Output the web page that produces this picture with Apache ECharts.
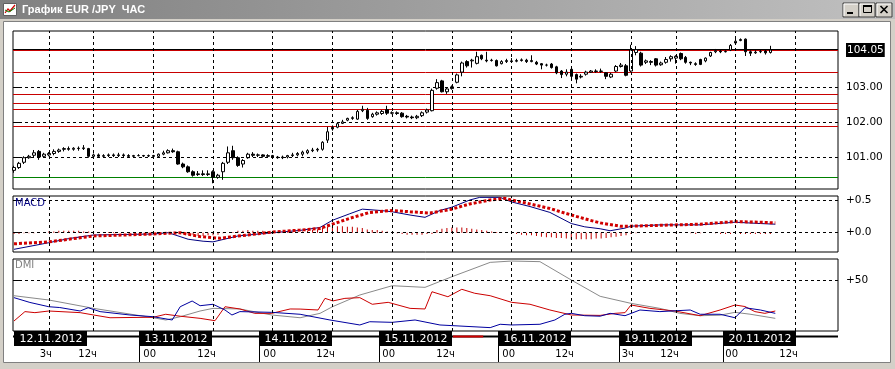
<!DOCTYPE html>
<html><head><meta charset="utf-8">
<script src="https://cdn.jsdelivr.net/npm/echarts@6/dist/echarts.min.js"></script>
<style>html,body{margin:0;padding:0;background:#d4d0c8;overflow:hidden}#c{width:895px;height:369px;}</style>
</head><body><div id="c"></div>
<script>
// ---------- DATA ----------
// hourly candles EUR/JPY: [open, close, low, high]
const candles = [
[100.62,100.70,100.55,100.75],[100.70,100.82,100.66,100.86],[100.85,100.98,100.80,101.02],[100.98,101.02,100.95,101.06],
[101.05,101.12,101.00,101.20],[101.16,101.00,100.92,101.20],[101.02,101.08,100.98,101.12],[101.06,101.10,101.02,101.14],
[101.10,101.16,101.05,101.22],[101.16,101.20,101.12,101.24],[101.22,101.24,101.16,101.28],[101.24,101.22,101.18,101.30],
[101.22,101.25,101.18,101.28],[101.25,101.24,101.18,101.30],[101.24,101.26,101.20,101.34],[101.24,101.02,100.98,101.26],
[101.02,101.06,100.96,101.10],[101.06,101.02,100.98,101.10],[101.02,101.04,100.98,101.08],[101.04,101.06,101.00,101.10],
[101.06,101.04,101.00,101.10],[101.04,101.06,101.00,101.12],[101.06,101.04,101.00,101.10],[101.04,101.02,100.98,101.08],
[101.02,101.04,101.00,101.06],[101.04,101.04,101.02,101.08],[101.04,101.03,101.00,101.06],[101.03,101.04,101.00,101.07],
[101.04,101.02,100.98,101.06],[101.02,101.08,101.00,101.10],[101.08,101.12,101.05,101.18],[101.12,101.18,101.10,101.22],
[101.18,101.15,101.12,101.24],[101.15,100.80,100.78,101.18],[100.80,100.72,100.68,100.84],[100.72,100.58,100.55,100.76],
[100.58,100.48,100.44,100.62],[100.50,100.52,100.46,100.60],[100.52,100.50,100.46,100.62],[100.50,100.52,100.46,100.62],
[100.58,100.42,100.25,100.62],[100.42,100.48,100.38,100.52],[100.58,100.82,100.35,100.86],[100.85,101.12,100.80,101.30],
[101.18,100.98,100.92,101.32],[100.98,100.76,100.72,101.02],[100.80,100.90,100.70,100.94],[100.98,101.08,100.95,101.12],
[101.08,101.05,101.00,101.14],[101.05,101.06,101.00,101.10],[101.06,101.02,100.98,101.08],[101.02,101.04,100.98,101.08],
[101.04,101.00,100.96,101.06],[101.00,100.98,100.95,101.03],[100.98,101.00,100.94,101.04],[101.00,101.04,100.96,101.06],
[101.04,101.06,101.00,101.12],[101.06,101.10,101.02,101.14],[101.08,101.14,101.02,101.18],[101.12,101.18,101.08,101.22],
[101.18,101.20,101.14,101.26],[101.20,101.22,101.15,101.26],[101.22,101.42,101.18,101.45],[101.48,101.72,101.40,101.86],
[101.80,101.85,101.75,101.90],[101.85,101.95,101.82,101.98],[101.96,102.00,101.94,102.06],[102.05,102.10,102.02,102.12],
[102.10,102.12,102.06,102.16],[102.08,102.30,102.06,102.34],[102.32,102.36,102.28,102.46],[102.33,102.10,102.06,102.40],
[102.15,102.22,102.12,102.26],[102.22,102.26,102.18,102.30],[102.24,102.30,102.20,102.34],[102.35,102.25,102.20,102.46],
[102.25,102.26,102.22,102.30],[102.26,102.24,102.20,102.30],[102.25,102.15,102.12,102.28],[102.16,102.14,102.10,102.20],
[102.14,102.12,102.08,102.18],[102.12,102.16,102.08,102.20],[102.18,102.26,102.14,102.30],[102.28,102.34,102.24,102.38],
[102.32,102.90,102.30,102.95],[102.96,103.12,102.92,103.22],[103.17,102.86,102.84,103.20],[102.86,102.94,102.80,102.98],
[102.95,103.00,102.92,103.04],[103.13,103.34,103.10,103.38],[103.42,103.68,103.30,103.72],[103.72,103.60,103.55,103.76],
[103.74,103.76,103.55,103.80],[103.67,103.86,103.64,104.00],[103.90,103.80,103.76,103.92],[103.76,103.74,103.70,104.00],
[103.75,103.76,103.72,103.80],[103.75,103.60,103.58,103.78],[103.66,103.72,103.64,103.76],[103.72,103.75,103.68,103.80],
[103.74,103.72,103.68,103.82],[103.73,103.75,103.70,103.80],[103.75,103.77,103.72,103.81],[103.76,103.72,103.68,103.80],
[103.72,103.75,103.70,103.90],[103.70,103.65,103.62,103.74],[103.66,103.62,103.50,103.68],[103.62,103.62,103.58,103.66],
[103.65,103.55,103.52,103.68],[103.57,103.40,103.36,103.60],[103.45,103.35,103.25,103.48],[103.36,103.42,103.30,103.50],
[103.50,103.30,103.25,103.52],[103.35,103.22,103.10,103.38],[103.28,103.30,103.24,103.36],[103.36,103.42,103.32,103.46],
[103.42,103.45,103.40,103.48],[103.45,103.44,103.40,103.50],[103.44,103.45,103.40,103.52],[103.40,103.30,103.22,103.42],
[103.28,103.36,103.25,103.40],[103.45,103.58,103.42,103.62],[103.58,103.62,103.55,103.68],[103.60,103.33,103.30,103.65],
[103.45,104.05,103.42,104.20],[103.98,104.06,103.90,104.16],[103.96,103.62,103.58,104.00],[103.70,103.74,103.65,103.78],
[103.72,103.70,103.62,103.76],[103.80,103.62,103.58,103.82],[103.63,103.68,103.60,103.72],[103.70,103.78,103.66,103.85],
[103.80,103.86,103.72,103.90],[103.82,103.87,103.66,103.90],[103.95,103.80,103.76,103.98],[103.84,103.70,103.66,103.88],
[103.70,103.68,103.62,103.72],[103.66,103.64,103.60,103.70],[103.78,103.64,103.62,103.80],[103.74,103.82,103.70,103.84],
[103.88,103.98,103.85,104.00],[104.00,104.03,103.96,104.08],[104.02,104.00,103.96,104.05],[104.00,104.01,103.98,104.04],
[104.05,104.18,104.02,104.22],[104.25,104.30,104.22,104.40],[104.32,104.35,104.30,104.38],[104.36,104.00,103.88,104.38],
[104.00,103.96,103.88,104.04],[103.97,103.99,103.94,104.04],[104.00,104.01,103.96,104.05],[104.02,103.97,103.92,104.06],
[103.98,104.05,103.95,104.17]
];
const lastPrice = 104.05;
const redLevels = [104.05, 103.41, 102.80, 102.54, 102.37, 101.88];
const darkLevels = [104.075];
const greenLevels = [100.43];
const priceTicks = [101, 102, 103];

// MACD [hourIndex, value]
const macdMain = [[0,-0.254],[7,-0.153],[11,-0.09],[16,-0.035],[28,-0.02],[31,0.0],[35,-0.10],[38,-0.13],[40,-0.14],[45,-0.05],[52,0.0],[57.5,0.035],[61.5,0.08],[64,0.19],[67.5,0.29],[70,0.36],[73.6,0.34],[76,0.32],[79.6,0.27],[82.6,0.235],[85.6,0.34],[88,0.39],[91.6,0.50],[93.6,0.54],[97.7,0.54],[100,0.47],[103.7,0.40],[107.7,0.31],[112,0.14],[114.7,0.09],[117.8,0.06],[119.8,0.03],[122.8,0.07],[124,0.10],[130,0.12],[137.9,0.12],[144.9,0.16],[150,0.14],[153,0.13]];
const macdSignal = [[0,-0.17],[7,-0.14],[16,-0.05],[28,-0.02],[33.4,0.0],[37.4,-0.06],[41.4,-0.085],[47.4,-0.03],[52,0.01],[57.5,0.04],[61.5,0.065],[64,0.13],[67.5,0.22],[71.5,0.31],[76,0.34],[79.6,0.32],[83.6,0.30],[88,0.36],[91.6,0.44],[95.7,0.50],[98.7,0.525],[100,0.50],[103.7,0.44],[107.7,0.37],[112,0.27],[115.8,0.19],[117.8,0.15],[121.8,0.10],[124,0.10],[137.9,0.13],[144.9,0.17],[150,0.16],[153,0.15]];
const macdHist = [
-0.02,-0.02,-0.01,-0.01,-0.01,0.00,0.01,0.02,0.02,0.03,0.03,0.03,0.03,0.03,0.02,0.02,
0.01,0.01,0.01,0.01,0.01,0,0,0,0,0,0,0,0,0,0,
0,0,-0.01,-0.02,-0.03,-0.04,-0.05,-0.05,-0.04,-0.04,-0.03,-0.01,0.00,0.01,
0.03,0.03,0.04,0.03,0.03,0.03,0.02,0.02,0.01,0.01,0.01,0.01,0.01,
0.02,0.03,0.04,0.05,0.08,0.09,0.10,0.10,0.10,0.09,0.09,0.08,0.07,
0.05,0.04,0.04,0.03,0.02,0.01,-0.01,-0.02,-0.03,-0.03,-0.03,-0.03,-0.02,-0.02,
0.04,0.06,0.07,0.08,0.08,0.08,0.07,0.06,0.05,0.04,0.03,0.02,0.01,0.01,0.00,
-0.01,-0.02,-0.03,-0.04,-0.04,-0.05,-0.06,-0.07,-0.07,-0.08,-0.08,-0.09,-0.10,-0.10,-0.10,-0.10,-0.10,-0.09,
-0.09,-0.08,-0.07,-0.06,-0.05,-0.04,-0.02,-0.01,0,0,0,0,0,
0,0,-0.01,0,0,-0.01,-0.02,-0.01,0,0,
-0.01,-0.02,-0.02,-0.02,-0.02,-0.02,-0.02,-0.02,-0.02,-0.02,-0.02,-0.02
];
// DMI [hourIndex, value]
const adx = [[0,34.6],[7,30.4],[16,22.2],[28,13],[30.5,10.8],[33.4,14],[37.4,19.6],[40,22.2],[45.4,21.6],[51.8,15.7],[57.5,13],[61.5,17.3],[64,23.8],[69.5,35.3],[76,44.4],[82.6,42.8],[88,53.2],[95.7,67.3],[100,68.6],[105.7,68],[112,50],[117.8,34],[124,27.1],[129.8,22.2],[133.8,17.3],[137.9,15],[141.9,15.5],[144.9,18.3],[147.9,16.5],[153,12.4]];
const diPlus = [[0,9.8],[2.2,19],[4.2,18],[7,19.6],[13.3,18],[16,15.7],[19.3,13],[28,13.5],[30.5,16.4],[33.4,14.5],[37.4,12.4],[40.4,10.1],[42.4,23.8],[45.4,21.6],[48.4,17.3],[51.8,17.3],[55.5,21.6],[57.5,21.5],[61.1,20.6],[62.5,32],[64.1,29.5],[66.5,32],[69.5,32.7],[72,26.2],[75.2,28.1],[79.6,22.2],[82.6,21.6],[84,38.5],[87.2,33.6],[90,40.9],[92.6,37],[95.7,34.6],[100,28.1],[103.7,26.2],[107.7,20.6],[112,15.7],[117.8,15.3],[120.8,17.3],[122.8,18],[124,25.5],[127.8,22.2],[132.8,19.6],[137.9,15],[141.9,20.6],[144.9,25.5],[146.9,24],[148.9,19],[150.9,17.3],[153,19.6]];
const diMinus = [[0,32.7],[3.2,28],[7,23.8],[9.2,23],[13.3,19.6],[14.9,22.8],[17.3,19],[23.3,15.7],[28,14],[31.8,10.8],[33.4,23.8],[35.8,29.4],[37.4,24.8],[40,26.2],[42.4,20.6],[43.8,15.7],[45.4,19],[51.8,18.3],[57.5,16.4],[63.5,10.8],[69.5,5.9],[71.5,9.1],[76,8.5],[80.6,10.8],[85.6,5.9],[95.7,3.3],[97.7,6.6],[100,5.9],[105.7,6.6],[108.7,10.8],[110.7,16.4],[112,17.3],[114.7,15],[117.8,14.5],[119.8,17.3],[122.8,15],[125.8,20.6],[129.8,19],[135.9,20.6],[137.9,16.4],[141.9,16.4],[144.9,13],[146.9,22.8],[150,20.6],[153,17.3]];

// time axis
const gridHours = [7,16,28,40,52,64,76,88,100,112,124,133,145,157];
const hourLabels = ['3ч','12ч','00','12ч','00','12ч','00','12ч','00','12ч','3ч','12ч','00','12ч'];
const dateStarts = [0,25.2,49.2,73.3,97.3,121.5,142.5];
const dateLabels = ['12.11.2012','13.11.2012','14.11.2012','15.11.2012','16.11.2012','19.11.2012','20.11.2012'];

// ---------- CHART ----------
const FONT = '"DejaVu Sans", Verdana, sans-serif';
const XMIN = -0.2, XMAX = 165.6;
const chart = echarts.init(document.getElementById('c'), null, {renderer:'canvas'});

const gridDefs = [
  {top:31, height:158},
  {top:196, height:56},
  {top:259, height:72},
  {top:331, height:31}
];
const grids = gridDefs.map((g,i)=>({left:13, width:825, top:g.top, height:g.height,
  show: i<3, borderColor:'#000', borderWidth:1, backgroundColor:'#fff', containLabel:false, outerBoundsMode:'none'}));
const xAxes = gridDefs.map((g,i)=>({type:'value', gridIndex:i, min:XMIN, max:XMAX, show:false}));
const labelBase = {color:'#000', fontFamily:FONT, fontSize:10.5, margin:8};
const tickBase = {show:true, length:5, lineStyle:{color:'#000'}};
const yAxes = [
  {type:'value', gridIndex:0, position:'right', min:100.088, max:104.592, scale:true,
   axisLine:{show:false}, splitLine:{show:false},
   axisTick:Object.assign({customValues:priceTicks}, tickBase),
   axisLabel:Object.assign({customValues:priceTicks.concat([lastPrice]),
     formatter:v=> Math.abs(v-lastPrice)<1e-6 ? '{b|'+lastPrice.toFixed(2)+'}' : v.toFixed(2),
     rich:{b:{color:'#fff', backgroundColor:'#000', fontFamily:FONT, fontSize:10.5, padding:[2,1,1,1]}}}, labelBase)},
  {type:'value', gridIndex:1, position:'right', min:-0.295, max:0.561,
   axisLine:{show:false}, splitLine:{show:false},
   axisTick:Object.assign({customValues:[0,0.5]}, tickBase),
   axisLabel:Object.assign({customValues:[0,0.5], formatter:v=>'+'+v.toFixed(1)}, labelBase)},
  {type:'value', gridIndex:2, position:'right', min:0, max:70.6,
   axisLine:{show:false}, splitLine:{show:false},
   axisTick:Object.assign({customValues:[50]}, tickBase),
   axisLabel:Object.assign({customValues:[50], formatter:v=>'+'+v}, labelBase)},
  {type:'value', gridIndex:3, min:0, max:31, inverse:true, show:false}
];

const dash = {type:[3,3], color:'#000', width:1};
function gridLines(idx, hVals){
  return {type:'line', xAxisIndex:idx, yAxisIndex:idx, data:[], z:1, silent:true,
    markLine:{silent:true, symbol:['none','none'], label:{show:false}, animation:false,
      lineStyle:dash,
      data: gridHours.map(h=>({xAxis:h})).concat(hVals.map(v=>({yAxis:v})))}};
}
// horizontal price levels drawn through the axis scale
function levelLines(vals, color, z){
  return {type:'custom', xAxisIndex:0, yAxisIndex:0, z:z, silent:true, clip:true,
    data: vals.map(v=>[0, v]),
    renderItem:(p,api)=>{
      const a = api.coord([XMIN, api.value(1)]);
      const b = api.coord([XMAX, api.value(1)]);
      const y = Math.round(a[1]) + 0.5;
      return {type:'line', shape:{x1:a[0], y1:y, x2:b[0], y2:y}, style:{stroke:color, lineWidth:1}};
    }};
}

const series = [
  gridLines(0, priceTicks),
  levelLines(darkLevels, '#000000', 2),
  levelLines(redLevels, '#c80000', 2),
  levelLines(greenLevels, '#008000', 2),
  {type:'candlestick', xAxisIndex:0, yAxisIndex:0, z:3, barWidth:3,
   encode:{x:0, y:[1,2,3,4]},
   data: candles.map((c,i)=>[i].concat(c)),
   itemStyle:{color:'#fff', color0:'#000', borderColor:'#000', borderColor0:'#000', borderWidth:1}},

  gridLines(1, [0,0.5]),
  {type:'bar', xAxisIndex:1, yAxisIndex:1, z:2, barWidth:1, silent:true,
   data: macdHist.map((v,i)=>[i,v]), itemStyle:{color:'#c00000'}},
  {type:'line', xAxisIndex:1, yAxisIndex:1, z:3, data:macdMain, showSymbol:false, silent:true,
   lineStyle:{color:'#000080', width:1}},
  {type:'line', xAxisIndex:1, yAxisIndex:1, z:4, data:macdSignal, showSymbol:false, silent:true,
   lineStyle:{color:'#d00000', width:3, type:[3,2]}},

  gridLines(2, [50]),
  {type:'line', xAxisIndex:2, yAxisIndex:2, z:3, data:adx, showSymbol:false, silent:true,
   lineStyle:{color:'#8a8a8a', width:1}},
  {type:'line', xAxisIndex:2, yAxisIndex:2, z:4, data:diPlus, showSymbol:false, silent:true,
   lineStyle:{color:'#cc0000', width:1}},
  {type:'line', xAxisIndex:2, yAxisIndex:2, z:4, data:diMinus, showSymbol:false, silent:true,
   lineStyle:{color:'#0000a0', width:1}},

  // time axis strip
  {type:'line', xAxisIndex:3, yAxisIndex:3, z:1, silent:true, showSymbol:false, clip:false,
   data:[[XMIN,5.5],[XMAX,5.5]], lineStyle:{color:'#000', width:2}},
  {type:'line', xAxisIndex:3, yAxisIndex:3, z:2, silent:true, showSymbol:false, clip:false,
   data:[[88.2,5.5],[94.3,5.5]], lineStyle:{color:'#d00000', width:2}},
  {type:'custom', xAxisIndex:3, yAxisIndex:3, z:3, silent:true, clip:false,
   data: dateStarts.map(v=>[v,0]),
   renderItem:(p,api)=>{
     const pt = api.coord([api.value(0), 0]);
     const x = Math.round(pt[0]);
     const ch = [
       {type:'rect', shape:{x:x, y:pt[1], width:73, height:15}, style:{fill:'#000'}},
       {type:'text', style:{text:dateLabels[p.dataIndex], x:x+37, y:pt[1]+8, fill:'#fff',
         font:'11px '+FONT, align:'center', verticalAlign:'middle'}}
     ];
     if (p.dataIndex>0) ch.push({type:'line', shape:{x1:x+0.5, y1:pt[1]+5, x2:x+0.5, y2:pt[1]+31}, style:{stroke:'#000', lineWidth:1}});
     return {type:'group', children:ch};
   }},
  {type:'custom', xAxisIndex:3, yAxisIndex:3, z:3, silent:true, clip:false,
   data: gridHours.map(v=>[v,23]),
   renderItem:(p,api)=>{
     const pt = api.coord([api.value(0), api.value(1)]);
     return {type:'text', style:{text:hourLabels[p.dataIndex], x:Math.round(pt[0])+3, y:pt[1],
       fill:'#000', font:'10px '+FONT, align:'right', verticalAlign:'middle'}};
   }}
];

const titleGrad = new echarts.graphic.LinearGradient(0,0,1,0,[{offset:0,color:'#808080'},{offset:1,color:'#c0c0c0'}]);
function btn(x, kind){
  const ch = [
    {type:'rect', shape:{x:x, y:3, width:16, height:14}, style:{fill:'#d4d0c8', stroke:'#404040', lineWidth:1}},
    {type:'polyline', shape:{points:[[x+1,16],[x+1,4],[x+15,4]]}, style:{stroke:'#fff', fill:null}}
  ];
  if (kind==='min') ch.push({type:'rect', shape:{x:x+4, y:12, width:6, height:2}, style:{fill:'#000'}});
  if (kind==='max') ch.push({type:'rect', shape:{x:x+4.5, y:5.5, width:8, height:7}, style:{fill:null, stroke:'#000', lineWidth:1}},
                             {type:'rect', shape:{x:x+4, y:5, width:9, height:2}, style:{fill:'#000'}});
  if (kind==='close') ch.push({type:'polyline', shape:{points:[[x+4.5,6],[x+11.5,13]]}, style:{stroke:'#000', lineWidth:1.6}},
                               {type:'polyline', shape:{points:[[x+11.5,6],[x+4.5,13]]}, style:{stroke:'#000', lineWidth:1.6}});
  return {type:'group', children:ch};
}

const graphic = [
  {type:'rect', z:-100, shape:{x:0,y:0,width:895,height:369}, style:{fill:'#d4d0c8'}},
  {type:'rect', z:-99, shape:{x:0,y:0,width:895,height:19}, style:{fill:titleGrad}},
  {type:'rect', z:-98, shape:{x:3.5,y:21.5,width:887,height:341}, style:{fill:'#fff', stroke:'#808080', lineWidth:1}},
  {type:'group', z:10, children:[
    {type:'rect', shape:{x:3.5,y:3.5,width:13,height:12}, style:{fill:'#fff', stroke:'#606060', lineWidth:1}},
    {type:'polyline', shape:{points:[[5,13],[8,9],[10,11],[15,5]]}, style:{stroke:'#d00000', lineWidth:1.2, fill:null}},
    {type:'polyline', shape:{points:[[5,10],[9,12],[15,8]]}, style:{stroke:'#008000', lineWidth:1, fill:null}}
  ]},
  {type:'text', z:10, style:{text:'График EUR /JPY  ЧАС', x:22, y:10, fill:'#fff',
    font:'bold 11px "Liberation Sans", Arial, sans-serif', verticalAlign:'middle'}},
  Object.assign(btn(843,'min'), {z:10}),
  Object.assign(btn(859,'max'), {z:10}),
  Object.assign(btn(876,'close'), {z:10}),
  {type:'text', z:10, style:{text:'MACD', x:15, y:203, fill:'#000080', font:'10px '+FONT, verticalAlign:'middle'}},
  {type:'text', z:10, style:{text:'DMI', x:15, y:265, fill:'#808080', font:'10px '+FONT, verticalAlign:'middle'}}
];

chart.setOption({
  animation:false,
  backgroundColor:'#d4d0c8',
  grid:grids, xAxis:xAxes, yAxis:yAxes, series:series, graphic:graphic
});
</script></body></html>
